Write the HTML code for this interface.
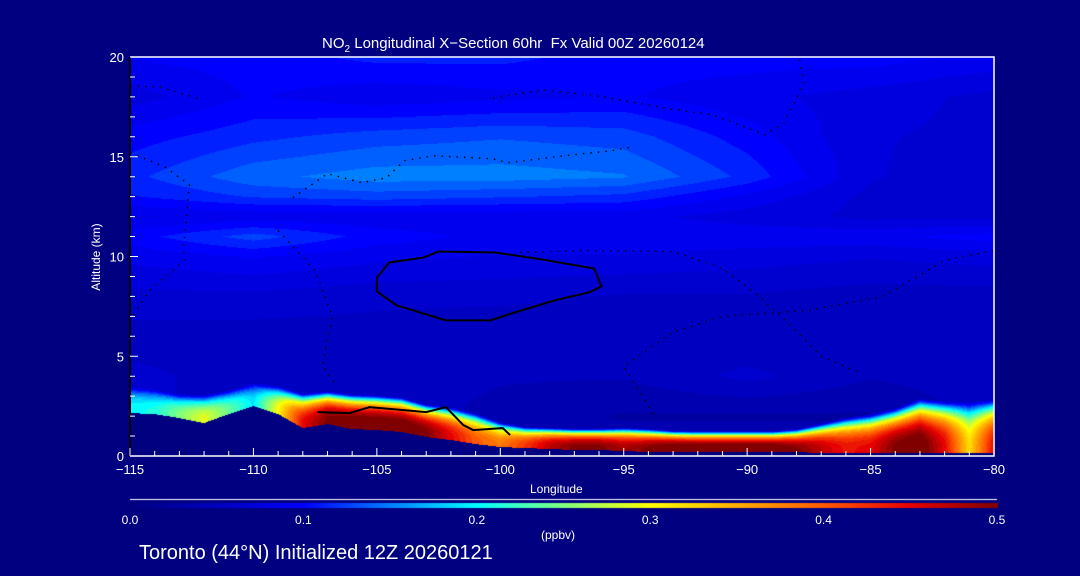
<!DOCTYPE html>
<html><head><meta charset="utf-8">
<style>
html,body{margin:0;padding:0;background:#000080;width:1080px;height:576px;overflow:hidden}
#wrap{position:relative;width:1080px;height:576px;font-family:"Liberation Sans",sans-serif;color:#fff}
canvas{position:absolute;left:0;top:0}
svg{position:absolute;left:0;top:0}
.t{position:absolute;white-space:nowrap;color:#fff}
</style></head>
<body>
<div id="wrap">
<canvas id="cv" width="1080" height="576"></canvas>
<svg id="ov" width="1080" height="576"></svg>
<div class="t" style="left:322px;top:35px;font-size:15px">NO<sub style="font-size:10px">2</sub> Longitudinal X&#8722;Section 60hr&nbsp; Fx Valid 00Z 20260124</div>
<div class="t" style="left:530px;top:482px;font-size:12px">Longitude</div>
<div class="t" style="left:46px;top:250px;font-size:12px;transform:rotate(-90deg);transform-origin:50% 50%;width:100px;text-align:center">Altitude (km)</div>
<div class="t" style="left:541px;top:528px;font-size:12px">(ppbv)</div>
<div class="t" style="left:139px;top:542px;font-size:20px">Toronto (44°N) Initialized 12Z 20260121</div>
</div>
<script>
// ---- data ----
const upLons=[-115,-110,-105,-100,-95,-90,-85,-80];
const upAlts=[0,2,4,6,8,10,11,12,13,14,16,18,20];
const upVals=[
[0.05,0.05,0.05,0.04,0.04,0.04,0.04,0.05],
[0.06,0.05,0.05,0.04,0.03,0.03,0.03,0.05],
[0.06,0.05,0.05,0.045,0.045,0.06,0.045,0.05],
[0.05,0.05,0.05,0.045,0.045,0.045,0.045,0.045],
[0.065,0.065,0.06,0.06,0.055,0.055,0.05,0.05],
[0.085,0.095,0.085,0.08,0.08,0.075,0.07,0.075],
[0.1,0.125,0.1,0.09,0.09,0.09,0.09,0.1],
[0.08,0.085,0.085,0.085,0.085,0.075,0.065,0.065],
[0.105,0.12,0.125,0.12,0.115,0.09,0.065,0.06],
[0.115,0.14,0.15,0.15,0.145,0.115,0.07,0.06],
[0.1,0.115,0.125,0.13,0.125,0.1,0.07,0.065],
[0.075,0.095,0.085,0.09,0.095,0.085,0.075,0.065],
[0.095,0.1,0.11,0.11,0.1,0.1,0.1,0.09]];
const sfcLons=[-115,-114,-113,-112,-111,-110,-109,-108,-107,-106,-105,-104,-103,-102,-101,-100,-99,-98,-97,-96,-95,-94,-93,-92,-91,-90,-89,-88,-87,-86,-85,-84,-83,-82,-81,-80];
const terrain=[2.15,2.1,1.9,1.65,2.1,2.5,2.1,1.4,1.6,1.35,1.3,1.2,0.95,0.8,0.6,0.45,0.4,0.35,0.3,0.3,0.25,0.2,0.2,0.18,0.18,0.18,0.18,0.18,0.17,0.17,0.15,0.15,0.15,0.15,0.15,0.15];
const peak=[0.2,0.21,0.25,0.29,0.24,0.19,0.3,0.45,0.5,0.52,0.52,0.52,0.5,0.45,0.4,0.38,0.42,0.47,0.5,0.5,0.48,0.5,0.52,0.52,0.52,0.52,0.52,0.5,0.47,0.44,0.45,0.5,0.52,0.45,0.32,0.45];
const depth=[1.5,1.4,1.3,1.5,1.3,1.3,1.5,1.8,1.7,1.8,1.8,1.8,1.7,1.7,1.6,1.3,1.1,1.1,1.1,1.1,1.2,1.2,1.1,1.1,1.1,1.1,1.1,1.2,1.5,1.8,2.0,2.3,2.8,2.7,2.7,2.8];
const xTicks=[-115,-110,-105,-100,-95,-90,-85,-80];
const yTicks=[0,5,10,15,20];
const cbTicks=["0.0","0.1","0.2","0.3","0.4","0.5"];
const ellipse=[[-105,8.94],[-104.5,9.7],[-103.1,9.95],[-102.5,10.25],[-100.2,10.2],[-98.3,9.85],[-96.2,9.4],[-95.9,8.5],[-96.4,8.2],[-97.8,7.8],[-99.4,7.2],[-100.4,6.8],[-102.2,6.8],[-104.2,7.55],[-105,8.25],[-105,8.94]];
const bl=[[-107.4,2.2],[-106.1,2.15],[-105.3,2.45],[-103,2.2],[-102.2,2.45],[-101.5,1.55],[-101.1,1.3],[-99.9,1.4],[-99.6,1.05]];
const dot1=[[-115,15.2],[-113.6,14.5],[-112.6,13.6],[-112.8,10.8],[-112.8,9.8],[-114.2,8.3],[-115,6.8]];
const dot2=[[-115,18.55],[-113.8,18.5],[-112.2,17.9]];
const dot3=[[-108.4,12.95],[-107,14.15],[-105.6,13.7],[-104.6,13.95],[-103.9,14.8],[-102.7,15.05],[-100.3,14.9],[-99.7,14.7],[-97.4,15.05],[-95.5,15.3],[-94.6,15.5]];
const dot4=[[-100.3,17.95],[-98.3,18.35],[-96.3,18.1],[-93.1,17.4],[-91.4,17.1],[-89.3,16.1],[-88.5,16.7],[-87.7,18.7],[-87.9,20]];
const dot5=[[-109,11.3],[-107.5,9.3],[-106.8,7],[-107.2,4.5],[-106.6,3.5]];
const dot6=[[-99.2,10.2],[-96.5,10.3],[-93,10.25],[-91,9.4],[-89.5,8],[-88.2,6.5],[-87,5],[-85.5,4.2]];
const dot7=[[-93.8,2.1],[-95,4.5],[-93,6.2],[-91,7],[-87.5,7.3],[-84.5,8],[-82,9.8],[-80,10.3]];

// ---- scales ----
const X0=130,X1=994,Y0=456,Y1=57;
const xs=l=>X0+(l+115)*(X1-X0)/35;
const ys=a=>Y0-a*(Y0-Y1)/20;
const stops=[[0,[0,0,128]],[0.1,[0,0,255]],[0.2,[0,255,255]],[0.25,[130,255,125]],[0.3,[255,255,0]],[0.4,[255,90,0]],[0.45,[230,0,0]],[0.5,[128,0,0]]];
function cmap(v){v=Math.max(0,Math.min(0.5,v));
 for(let i=1;i<stops.length;i++){if(v<=stops[i][0]){const a=stops[i-1],b=stops[i],t=(v-a[0])/(b[0]-a[0]);return a[1].map((c,k)=>Math.round(c+(b[1][k]-c)*t));}}
 return stops[stops.length-1][1];}
function interp1(arr,vals,x){if(x<=arr[0])return vals[0];for(let i=1;i<arr.length;i++){if(x<=arr[i]){const t=(x-arr[i-1])/(arr[i]-arr[i-1]);return vals[i-1]+(vals[i]-vals[i-1])*t;}}return vals[vals.length-1];}
function upper(l,a){let j=0;while(j<upAlts.length-2&&a>upAlts[j+1])j++;const ta=Math.max(0,Math.min(1,(a-upAlts[j])/(upAlts[j+1]-upAlts[j])));
 const r0=interp1(upLons,upVals[j],l),r1=interp1(upLons,upVals[j+1],l);return r0+(r1-r0)*ta;}
const cv=document.getElementById('cv'),ctx=cv.getContext('2d');
ctx.fillStyle='#000080';ctx.fillRect(0,0,1080,576);
const W=X1-X0,H=Y0-Y1,img=ctx.createImageData(W,H);
for(let px=0;px<W;px++){const l=-115+35*(px+0.5)/W;const ter=interp1(sfcLons,terrain,l),pk=interp1(sfcLons,peak,l),dp=interp1(sfcLons,depth,l);
 for(let py=0;py<H;py++){const a=20*(H-py-0.5)/H;let c;
  if(a<ter)c=[0,0,128];else{const f=(a-ter)/dp;let v=upper(l,a);if(f<1)v=Math.max(v,pk*(1-f*f*f));v=Math.round(v/0.0125)*0.0125;c=cmap(v);}
  const o=(py*W+px)*4;img.data[o]=c[0];img.data[o+1]=c[1];img.data[o+2]=c[2];img.data[o+3]=255;}}
ctx.putImageData(img,X0,Y1);
// colorbar
for(let x=130;x<=997;x++){const c=cmap(0.5*(x-130)/867);ctx.fillStyle=`rgb(${c})`;ctx.fillRect(x,503,1,5);}
ctx.fillStyle='#fff';ctx.fillRect(130,499,867,1);

// ---- svg overlay ----
const NS='http://www.w3.org/2000/svg',ov=document.getElementById('ov');
function line(pts,name,dash,w){const p=document.createElementNS(NS,'polyline');
 p.setAttribute('points',pts.map(q=>xs(q[0])+','+ys(q[1])).join(' '));
 p.setAttribute('fill','none');p.setAttribute('stroke','#000');p.setAttribute('stroke-width',w);
 if(dash)p.setAttribute('stroke-dasharray',dash);
 
 
 ov.appendChild(p);}
line(ellipse,'contour-zero-solid',null,2);
line(bl,'contour-boundary-solid',null,2);
[dot1,dot2,dot3,dot4,dot5,dot6,dot7].forEach((d,i)=>line(d,'contour-dotted',"1.5 6",1.5));
function txt(x,y,s,size,anchor,name){const t=document.createElementNS(NS,'text');t.setAttribute('x',x);t.setAttribute('y',y);t.setAttribute('fill','#fff');
 t.setAttribute('font-size',size);t.setAttribute('font-family','Liberation Sans, sans-serif');t.setAttribute('text-anchor',anchor);t.textContent=s;
 
 
 ov.appendChild(t);}
// frame
const fr=document.createElementNS(NS,'path');
fr.setAttribute('d',`M${X0} ${Y0}H${X1}V${Y1}H${X0}`);fr.setAttribute('fill','none');fr.setAttribute('stroke','#fff');fr.setAttribute('stroke-width','1.5');


ov.appendChild(fr);
const la=document.createElementNS(NS,'line');la.setAttribute('x1',X0);la.setAttribute('x2',X0);la.setAttribute('y1',Y1);la.setAttribute('y2',Y0);la.setAttribute('stroke','#000');la.setAttribute('stroke-width','2');


ov.appendChild(la);
let d='';
for(let l=-115;l<=-80;l++){const len=(l%5===0)?8:5;d+=`M${xs(l)} ${Y0}v${-len}`;}
for(let a=0;a<=20;a++){const len=(a%5===0)?8:5;d+=`M${X0} ${ys(a)}h${len}`;}
const tk=document.createElementNS(NS,'path');tk.setAttribute('d',d);tk.setAttribute('stroke','#fff');tk.setAttribute('stroke-width','1');


ov.appendChild(tk);
xTicks.forEach(l=>txt(xs(l),474,String(l).replace('-','\u2212'),13,'middle','x-tick-label'));
yTicks.forEach(a=>txt(124,ys(a)+5,String(a),13,'end','y-tick-label'));
cbTicks.forEach((s,i)=>txt(130+i*867/5,524,s,12,'middle','colorbar-tick-label'));
</script>
</body></html>
